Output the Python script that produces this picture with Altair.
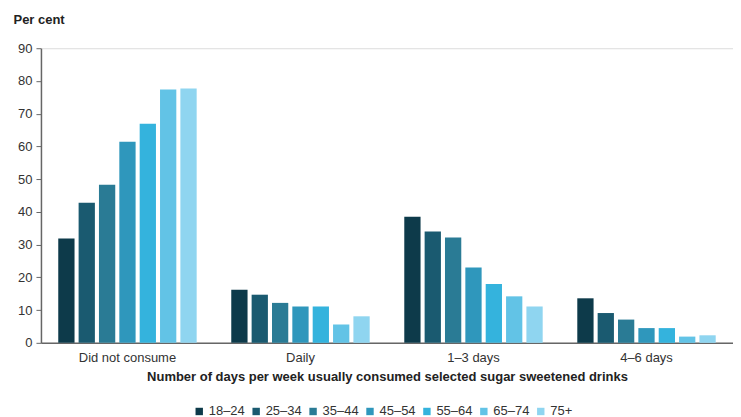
import altair as alt
import pandas as pd

categories = ["Did not consume", "Daily", "1–3 days", "4–6 days"]
ages = ["18–24", "25–34", "35–44", "45–54", "55–64", "65–74", "75+"]
colors = ["#0d3a4a", "#1a5a70", "#2a7b95", "#2f97bc", "#34b3dd", "#62c3e6", "#8fd5f0"]

did_not_consume = [31.9, 42.8, 48.3, 61.4, 66.9, 77.4, 77.7]
daily = [16.2, 14.7, 12.2, 11.1, 11.1, 5.6, 8.1]
days_1_3 = [38.5, 34.0, 32.2, 23.0, 18.0, 14.2, 11.1]
days_4_6 = [13.6, 9.1, 7.1, 4.5, 4.5, 1.9, 2.3]

series = [did_not_consume, daily, days_1_3, days_4_6]
rows = []
for cat, vals in zip(categories, series):
    for age, v in zip(ages, vals):
        rows.append({"category": cat, "age": age, "value": v})
df = pd.DataFrame(rows)

font = "Liberation Sans"

chart = alt.Chart(df).mark_bar().encode(
    x=alt.X("category:N", sort=categories,
            scale=alt.Scale(paddingInner=0.2, paddingOuter=0.1),
            axis=alt.Axis(title="Number of days per week usually consumed selected sugar sweetened drinks",
                          labelAngle=0, ticks=False, labelPadding=9,
                          labelFontSize=13, labelColor="#333333", labelFont=font,
                          titleFont=font, titleFontSize=13, titleFontWeight="bold",
                          titleColor="#222222", titlePadding=6,
                          domainColor="#666666", domainWidth=1.5)),
    xOffset=alt.XOffset("age:N", sort=ages, scale=alt.Scale(paddingInner=0.2)),
    y=alt.Y("value:Q", scale=alt.Scale(domain=[0, 90]),
            axis=alt.Axis(values=list(range(0, 91, 10)), grid=False, title="Per cent",
                          titleAngle=0, titleAlign="left", titleX=-28, titleY=-22,
                          titleFont=font, titleFontSize=13, titleFontWeight="bold",
                          titleColor="#222222",
                          labelFont=font, labelFontSize=13, labelColor="#333333",
                          tickColor="#666666", tickSize=5, domainColor="#666666",
                          domainWidth=1.5, labelPadding=4)),
    color=alt.Color("age:N", sort=ages, scale=alt.Scale(domain=ages, range=colors),
                    legend=alt.Legend(orient="none", direction="horizontal", title=None,
                                      legendX=152, legendY=357,
                                      symbolType="square", symbolSize=55,
                                      labelOffset=3,
                                      labelFont=font, labelFontSize=13, labelColor="#333333",
                                      columnPadding=4, symbolOffset=0)),
).properties(width=693, height=295, padding={"top": 5, "left": 5, "right": 0, "bottom": 0}
).configure_view(stroke=None).configure(background="white")

chart.save("out.html", embed_options={"renderer": "svg", "actions": False})
